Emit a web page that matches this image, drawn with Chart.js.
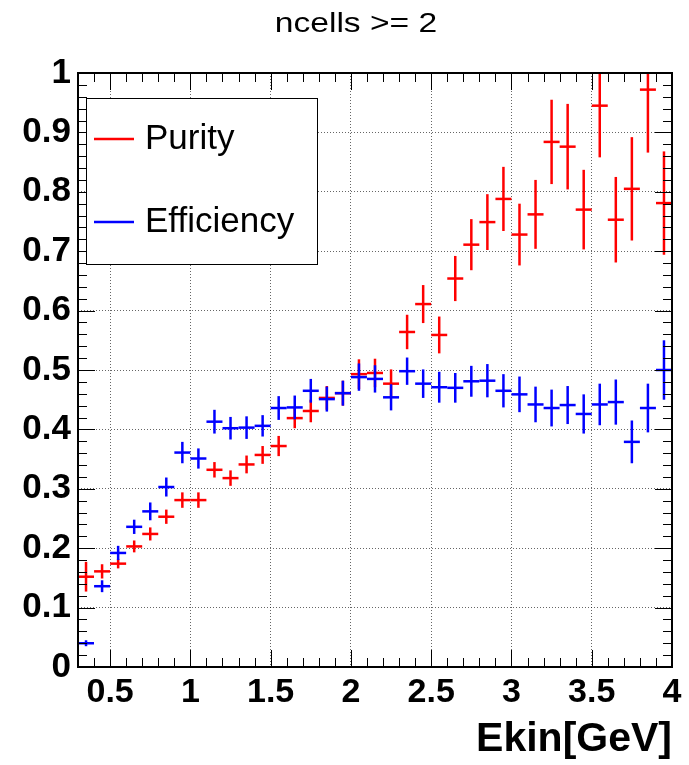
<!DOCTYPE html>
<html>
<head>
<meta charset="utf-8">
<script src="https://cdn.jsdelivr.net/npm/chart.js@4.4.1/dist/chart.umd.min.js"></script>
<style>
  html, body { margin: 0; padding: 0; background: #fff; }
  canvas { display: block; }
</style>
</head>
<body>
<canvas id="chart" width="689" height="765"></canvas>
<script>
// bin centres, Ekin [GeV]
const binCenters = [0.35, 0.45, 0.55, 0.65, 0.75, 0.85, 0.95, 1.05, 1.15, 1.25, 1.35, 1.45, 1.55,
    1.65, 1.75, 1.85, 1.95, 2.05, 2.15, 2.25, 2.35, 2.45, 2.55, 2.65, 2.75, 2.85, 2.95, 3.05,
    3.15, 3.25, 3.35, 3.45, 3.55, 3.65, 3.75, 3.85, 3.95];

const purity = [0.152, 0.161, 0.174, 0.203, 0.224, 0.253, 0.281, 0.281, 0.332, 0.318, 0.341, 0.357, 0.372,
    0.419, 0.431, 0.453, 0.461, 0.493, 0.495, 0.477, 0.564, 0.611, 0.559, 0.654, 0.711, 0.749, 0.788, 0.728,
    0.762, 0.884, 0.876, 0.770, 0.945, 0.753, 0.805, 0.972, 0.781];
const purityErr = [0.025, 0.012, 0.008, 0.010, 0.011, 0.012, 0.013, 0.013, 0.013, 0.013, 0.015, 0.015, 0.017,
    0.017, 0.019, 0.020, 0.021, 0.025, 0.024, 0.024, 0.029, 0.032, 0.031, 0.038, 0.043, 0.047, 0.054, 0.052,
    0.058, 0.071, 0.072, 0.067, 0.087, 0.072, 0.087, 0.106, 0.087];

const efficiency = [0.040, 0.136, 0.192, 0.236, 0.262, 0.303, 0.361, 0.351, 0.413, 0.402, 0.403, 0.406, 0.436,
    0.437, 0.465, 0.451, 0.461, 0.488, 0.485, 0.454, 0.498, 0.477, 0.471, 0.470, 0.481, 0.482, 0.465, 0.459,
    0.442, 0.436, 0.441, 0.426, 0.442, 0.446, 0.379, 0.436, 0.500];
const efficiencyErr = [0.005, 0.010, 0.012, 0.012, 0.015, 0.016, 0.018, 0.017, 0.020, 0.019, 0.019, 0.018, 0.020,
    0.020, 0.020, 0.021, 0.021, 0.023, 0.023, 0.022, 0.023, 0.024, 0.026, 0.025, 0.026, 0.028, 0.028, 0.030,
    0.030, 0.031, 0.032, 0.033, 0.035, 0.038, 0.036, 0.041, 0.050];

const xTickValues = [0.5, 1, 1.5, 2, 2.5, 3, 3.5, 4];
const chartTitle = 'ncells >= 2';
const xTitle = 'Ekin[GeV]';

const FONT = '"Liberation Sans", Arial, Helvetica, sans-serif';
const LINE_W = 2.5;

function points(ys) {
    return binCenters.map((x, i) => ({ x: x, y: ys[i] }));
}

// vertical error bars, clipped to the frame
const errorBars = {
    id: 'errorBars',
    afterDatasetDraw(chart, args) {
        const ds = chart.data.datasets[args.index];
        const xs = chart.scales.x, ys = chart.scales.y;
        const ctx = chart.ctx, a = chart.chartArea;
        ctx.save();
        ctx.beginPath();
        ctx.rect(a.left, a.top, a.right - a.left, a.bottom - a.top);
        ctx.clip();
        ctx.strokeStyle = ds.borderColor;
        ctx.lineWidth = LINE_W;
        ds.data.forEach((p, i) => {
            const px = xs.getPixelForValue(p.x);
            ctx.beginPath();
            ctx.moveTo(px, ys.getPixelForValue(p.y - ds.errors[i]));
            ctx.lineTo(px, ys.getPixelForValue(p.y + ds.errors[i]));
            ctx.stroke();
        });
        ctx.restore();
    }
};

// ROOT-like frame with inward ticks on all four sides, legend box and title
const rootFrame = {
    id: 'rootFrame',
    afterDraw(chart) {
        const ctx = chart.ctx, a = chart.chartArea;
        const xs = chart.scales.x, ys = chart.scales.y;
        ctx.save();
        ctx.strokeStyle = '#000';
        ctx.lineWidth = 1;
        // y ticks every 0.02, major every 0.1
        for (let k = 0; k <= 50; k++) {
            const py = Math.round(ys.getPixelForValue(k * 0.02)) + 0.5;
            const len = k % 5 === 0 ? 17 : 9;
            ctx.beginPath();
            ctx.moveTo(a.left, py); ctx.lineTo(a.left + len, py);
            ctx.moveTo(a.right, py); ctx.lineTo(a.right - len, py);
            ctx.stroke();
        }
        // x ticks every 0.1, major every 0.5
        for (let k = 4; k <= 40; k++) {
            const px = Math.round(xs.getPixelForValue(k * 0.1)) + 0.5;
            const len = k % 5 === 0 ? 17 : 9;
            ctx.beginPath();
            ctx.moveTo(px, a.bottom); ctx.lineTo(px, a.bottom - len);
            ctx.moveTo(px, a.top); ctx.lineTo(px, a.top + len);
            ctx.stroke();
        }
        ctx.lineWidth = 2;
        ctx.strokeRect(a.left, a.top, a.right - a.left, a.bottom - a.top);

        // legend
        ctx.fillStyle = '#fff';
        ctx.fillRect(86, 98, 231, 166);
        ctx.lineWidth = 1;
        ctx.strokeStyle = '#000';
        ctx.strokeRect(86.5, 98.5, 231, 166);
        const rows = [139, 222];
        chart.data.datasets.forEach((ds, i) => {
            ctx.strokeStyle = ds.borderColor;
            ctx.lineWidth = LINE_W;
            ctx.beginPath();
            ctx.moveTo(94, rows[i]); ctx.lineTo(134, rows[i]);
            ctx.stroke();
            ctx.fillStyle = '#000';
            ctx.font = '35px ' + FONT;
            ctx.textAlign = 'left';
            ctx.textBaseline = 'alphabetic';
            ctx.fillText(ds.label, 145, rows[i] + 10);
        });

        // title
        ctx.translate(356, 32);
        ctx.scale(1.2, 1);
        ctx.fillStyle = '#000';
        ctx.font = '28px ' + FONT;
        ctx.textAlign = 'center';
        ctx.textBaseline = 'alphabetic';
        ctx.fillText(chartTitle, 0, 0);
        ctx.restore();
    }
};

const ctx = document.getElementById('chart').getContext('2d');
const chart = new Chart(ctx, {
    type: 'scatter',
    data: {
        datasets: [{
            label: 'Purity',
            data: points(purity),
            errors: purityErr,
            borderColor: '#ff0000',
            backgroundColor: '#ff0000',
            pointStyle: 'line',
            pointRadius: 8,
            pointBorderWidth: LINE_W,
            order: 2
        }, {
            label: 'Efficiency',
            data: points(efficiency),
            errors: efficiencyErr,
            borderColor: '#0000ff',
            backgroundColor: '#0000ff',
            pointStyle: 'line',
            pointRadius: 8,
            pointBorderWidth: LINE_W,
            order: 1
        }]
    },
    options: {
        responsive: false,
        animation: false,
        devicePixelRatio: 1,
        events: [],
        layout: { padding: { top: 73, right: 17, bottom: 0, left: 0 } },
        plugins: {
            legend: { display: false },
            tooltip: { enabled: false },
            title: { display: false }
        },
        scales: {
            x: {
                type: 'linear',
                min: 0.3,
                max: 4,
                afterBuildTicks: scale => { scale.ticks = xTickValues.map(v => ({ value: v })); },
                afterFit: scale => { scale.height = 98; },
                grid: { color: 'rgba(0,0,0,0.6)', lineWidth: 1, drawTicks: false },
                border: { display: false, dash: [1, 2] },
                ticks: {
                    autoSkip: false,
                    maxRotation: 0,
                    padding: 5,
                    color: '#000',
                    font: { family: FONT, size: 34, weight: 'bold' },
                    callback: v => String(v)
                },
                title: {
                    display: true,
                    text: xTitle,
                    align: 'end',
                    color: '#000',
                    font: { family: FONT, size: 41, weight: 'bold' },
                    padding: { top: 0, bottom: 1 }
                }
            },
            y: {
                min: 0,
                max: 1,
                afterFit: scale => { scale.width = 78; },
                grid: { color: 'rgba(0,0,0,0.6)', lineWidth: 1, drawTicks: false },
                border: { display: false, dash: [1, 2] },
                ticks: {
                    stepSize: 0.1,
                    padding: 7,
                    color: '#000',
                    font: { family: FONT, size: 35, weight: 'bold' },
                    callback: v => String(Number(v.toFixed(1)))
                }
            }
        }
    },
    plugins: [errorBars, rootFrame]
});
</script>
</body>
</html>
